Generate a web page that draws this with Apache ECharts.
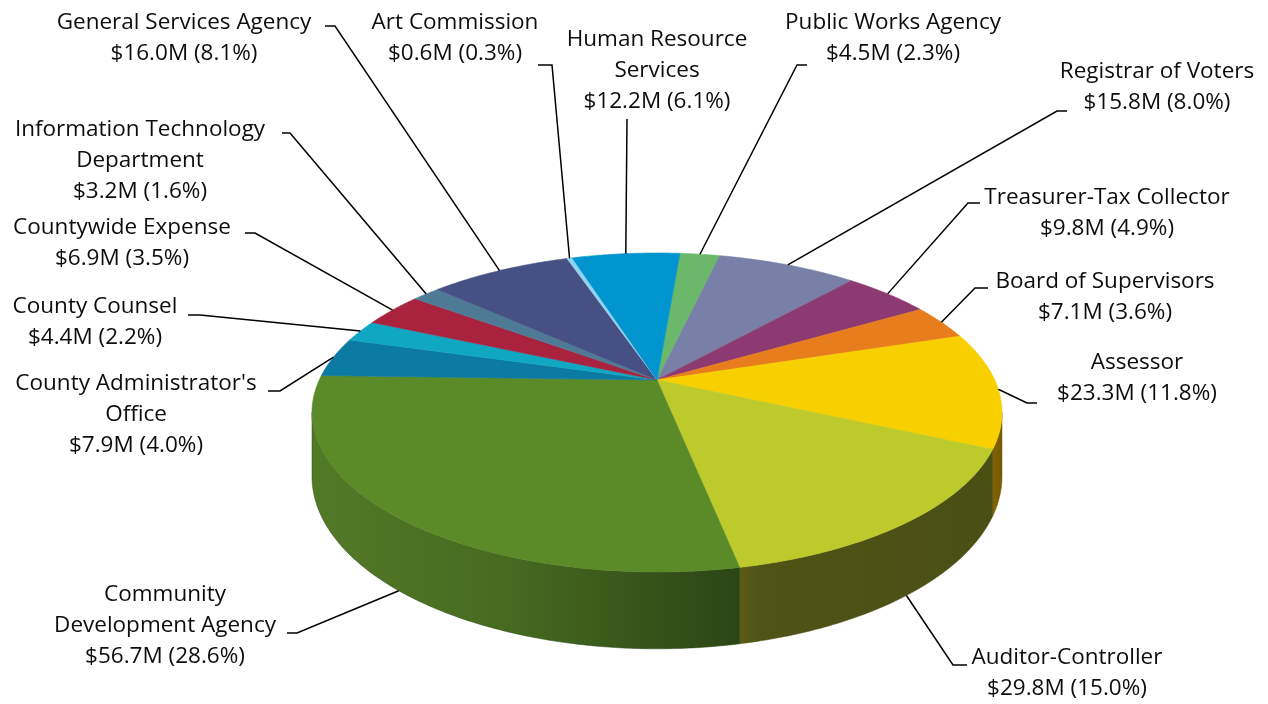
<!DOCTYPE html>
<html>
<head>
<meta charset="utf-8">
<title>General Government Budget by Department</title>
<script src="https://cdn.jsdelivr.net/npm/echarts@6/dist/echarts.min.js"></script>
<style>
  html, body { margin: 0; padding: 0; background: #ffffff; }
  #chart { width: 1268px; height: 704px; }
</style>
</head>
<body>
<div id="chart"></div>
<script>
// Departments, listed clockwise from the top of the pie
const departments = [
  'Public Works Agency',
  'Registrar of Voters',
  'Treasurer-Tax Collector',
  'Board of Supervisors',
  'Assessor',
  'Auditor-Controller',
  'Community\nDevelopment Agency',
  "County Administrator's\nOffice",
  'County Counsel',
  'Countywide Expense',
  'Information Technology\nDepartment',
  'General Services Agency',
  'Art Commission',
  'Human Resource\nServices'
];

// Budget in millions of dollars
const budgetM = [4.5, 15.8, 9.8, 7.1, 23.3, 29.8, 56.7, 7.9, 4.4, 6.9, 3.2, 16.0, 0.6, 12.2];

// Share of the total budget, in percent
const sharePct = [2.3, 8.0, 4.9, 3.6, 11.8, 15.0, 28.6, 4.0, 2.2, 3.5, 1.6, 8.1, 0.3, 6.1];

// Slice colours (top face)
const sliceColors = [
  '#6cb86a', '#7880a8', '#8e3a72', '#e87d1e', '#f8d000', '#bcca2c', '#5b8a29',
  '#0b7ba3', '#10a7c2', '#a9233f', '#4f7a96', '#475083', '#8fd3f0', '#0095cf'
];

// Side (rim) gradient stops, left to right
const sideColors = [
  null, null, null, null,
  [[0, '#846400'], [1, '#765900']],
  [[0, '#5e5c18'], [0.08, '#4f5315'], [1, '#4a4f14']],
  [[0, '#517a26'], [0.45, '#466b20'], [1, '#2c4516']],
  null, null, null, null, null, null, null
];

// Label layout: text centre x, first-line centre y, leader start, leader elbow
const labelLayout = [
  { x: 893, y: 23, s: [807, 65], e: [797, 65] },
  { x: 1157, y: 72, s: [1067, 111], e: [1057, 111] },
  { x: 1107, y: 198, s: [980, 203], e: [968, 203] },
  { x: 1105, y: 282, s: [988, 288], e: [975, 288] },
  { x: 1137, y: 363, s: [1037, 403], e: [1027, 403] },
  { x: 1067, y: 658, s: [967, 665], e: [953, 665] },
  { x: 165, y: 595, s: [287, 633], e: [297, 633] },
  { x: 136, y: 384, s: [268, 391], e: [280, 391] },
  { x: 95, y: 307, s: [188, 315], e: [200, 315] },
  { x: 122, y: 228, s: [245, 233], e: [255, 233] },
  { x: 140, y: 130, s: [282, 133], e: [290, 133] },
  { x: 184, y: 23, s: [325, 26], e: [335, 26] },
  { x: 455, y: 23, s: [538, 65], e: [552, 65] },
  { x: 657, y: 40, s: [627, 119], e: [627, 119] }
];

// Perspective pie geometry
const PIE = {
  cx: 657,        // apex x
  cy: 380,        // apex y
  sx: 1657,       // horizontal projection scale
  sy: 750,        // vertical projection scale
  dist: 4.906,    // camera distance in radii
  depth: 300,     // thickness scale
  startDeg: 4.7   // angle of the first slice edge, clockwise from the back
};

const total = budgetM.reduce((a, b) => a + b, 0);
const sliceAngles = [];
(function () {
  let acc = PIE.startDeg;
  budgetM.forEach(v => {
    const span = v / total * 360;
    sliceAngles.push([acc, acc + span]);
    acc += span;
  });
})();

function project(deg, drop) {
  const t = deg * Math.PI / 180;
  const s = Math.sin(t), c = Math.cos(t);
  const w = PIE.dist + c;
  return [PIE.cx + PIE.sx * s / w, PIE.cy - PIE.sy * c / w + (drop ? PIE.depth / w : 0)];
}

function rim(a, b, drop) {
  const pts = [];
  const n = Math.max(2, Math.ceil((b - a) / 0.5));
  for (let i = 0; i <= n; i++) pts.push(project(a + (b - a) * i / n, drop));
  return pts;
}

// Range of angles whose rim faces the viewer
const visFrom = Math.acos(-1 / PIE.dist) * 180 / Math.PI;
const visTo = 360 - visFrom;

function renderSide(params, api) {
  const i = params.dataIndex;
  const [a, b] = sliceAngles[i];
  const lo = Math.max(a, visFrom), hi = Math.min(b, visTo);
  if (hi <= lo) return null;
  const top = rim(lo, hi, false);
  const bottom = rim(lo, hi, true).reverse();
  const pts = top.concat(bottom);
  const stops = sideColors[i] || [[0, echarts.color.lift(sliceColors[i], -0.4)], [1, echarts.color.lift(sliceColors[i], -0.55)]];
  const fill = new echarts.graphic.LinearGradient(0, 0, 1, 0,
    stops.map(s => ({ offset: s[0], color: s[1] })));
  return {
    type: 'polygon',
    shape: { points: pts },
    style: { fill: fill, stroke: stops[stops.length - 1][1], lineWidth: 0.5 }
  };
}

function renderTop(params, api) {
  const i = params.dataIndex;
  const [a, b] = sliceAngles[i];
  const pts = [[PIE.cx, PIE.cy]].concat(rim(a, b, false));
  return {
    type: 'polygon',
    shape: { points: pts },
    style: { fill: sliceColors[i], stroke: sliceColors[i], lineWidth: 0.6 }
  };
}

function renderLabel(params, api) {
  const i = params.dataIndex;
  const [a, b] = sliceAngles[i];
  const mid = (a + b) / 2;
  const m = ((mid % 360) + 360) % 360;
  const anchor = project(mid, m > visFrom && m < visTo);
  const L = labelLayout[i];
  const text = departments[i] + '\n$' + api.value(0).toFixed(1) + 'M (' + sharePct[i].toFixed(1) + '%)';
  return {
    type: 'group',
    children: [
      {
        type: 'polyline',
        shape: { points: [L.s, L.e, anchor] },
        style: { stroke: '#000000', lineWidth: 1.5, fill: null }
      },
      {
        type: 'text',
        style: {
          text: text,
          x: L.x,
          y: L.y - 15.5,
          align: 'center',
          verticalAlign: 'top',
          font: '22.5px "Open Sans"',
          lineHeight: 31,
          fill: '#0d0d0d'
        }
      }
    ]
  };
}

const chart = echarts.init(document.getElementById('chart'), null, { renderer: 'canvas' });
chart.setOption({
  backgroundColor: '#ffffff',
  animation: false,
  series: [
    { type: 'custom', name: 'rim', coordinateSystem: 'none', z: 1, silent: true, renderItem: renderSide, data: budgetM },
    { type: 'custom', name: 'slices', coordinateSystem: 'none', z: 2, silent: true, renderItem: renderTop, data: budgetM },
    { type: 'custom', name: 'labels', coordinateSystem: 'none', z: 3, silent: true, renderItem: renderLabel, data: budgetM }
  ]
});
</script>
</body>
</html>
